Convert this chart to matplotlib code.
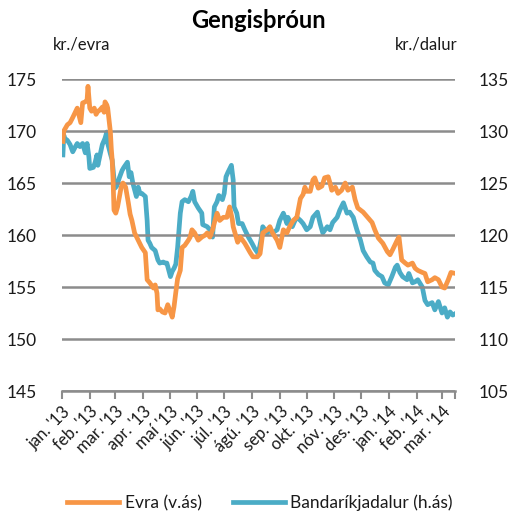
import matplotlib
matplotlib.use("Agg")
import matplotlib.pyplot as plt
import matplotlib.dates as mdates
import pandas as pd

plt.rcParams['font.family'] = ['Lato', 'DejaVu Sans']

title = "Gengisþróun"
left_unit = "kr./evra"
right_unit = "kr./dalur"
eur_label = "Evra (v.ás)"
usd_label = "Bandaríkjadalur (h.ás)"

month_labels = ["jan. '13", "feb. '13", "mar. '13", "apr. '13", "maí '13", "jún. '13",
                "júl. '13", "ágú. '13", "sep. '13", "okt. '13", "nóv. '13", "des. '13",
                "jan. '14", "feb. '14", "mar. '14"]

eur_dates = ["2013-01-02", "2013-01-03", "2013-01-07", "2013-01-10", "2013-01-13", "2013-01-18",
             "2013-01-20", "2013-01-22", "2013-01-24", "2013-01-27", "2013-01-29", "2013-01-30",
             "2013-01-31", "2013-02-01", "2013-02-03", "2013-02-06", "2013-02-08", "2013-02-10",
             "2013-02-12", "2013-02-15", "2013-02-17", "2013-02-18", "2013-02-20", "2013-02-21",
             "2013-02-24", "2013-02-25", "2013-02-26", "2013-02-27", "2013-02-28", "2013-03-02",
             "2013-03-04", "2013-03-08", "2013-03-10", "2013-03-13", "2013-03-16", "2013-03-18",
             "2013-03-20", "2013-03-23", "2013-03-27", "2013-03-31", "2013-04-04", "2013-04-06",
             "2013-04-09", "2013-04-13", "2013-04-15", "2013-04-17", "2013-04-18", "2013-04-20",
             "2013-04-23", "2013-04-26", "2013-04-29", "2013-05-02", "2013-05-04", "2013-05-06",
             "2013-05-08", "2013-05-10", "2013-05-13", "2013-05-15", "2013-05-18", "2013-05-22",
             "2013-05-24", "2013-05-26", "2013-05-29", "2013-06-02", "2013-06-06", "2013-06-10",
             "2013-06-12", "2013-06-15", "2013-06-18", "2013-06-21", "2013-06-23", "2013-06-26",
             "2013-06-30", "2013-07-04", "2013-07-07", "2013-07-10", "2013-07-11", "2013-07-13",
             "2013-07-16", "2013-07-19", "2013-07-24", "2013-07-30", "2013-08-02", "2013-08-07",
             "2013-08-10", "2013-08-13", "2013-08-18", "2013-08-21", "2013-08-24", "2013-08-29",
             "2013-09-01", "2013-09-05", "2013-09-09", "2013-09-12", "2013-09-16", "2013-09-20",
             "2013-09-24", "2013-09-27", "2013-09-29", "2013-10-01", "2013-10-05", "2013-10-08",
             "2013-10-10", "2013-10-14", "2013-10-18", "2013-10-21", "2013-10-25", "2013-10-27",
             "2013-10-29", "2013-11-02", "2013-11-05", "2013-11-09", "2013-11-13", "2013-11-16",
             "2013-11-21", "2013-11-24", "2013-11-27", "2013-12-03", "2013-12-08", "2013-12-13",
             "2013-12-16", "2013-12-20", "2013-12-22", "2013-12-25", "2013-12-30", "2014-01-02",
             "2014-01-05", "2014-01-10", "2014-01-12", "2014-01-15", "2014-01-19", "2014-01-22",
             "2014-01-27", "2014-01-30", "2014-02-02", "2014-02-07", "2014-02-10", "2014-02-13",
             "2014-02-18", "2014-02-21", "2014-02-25", "2014-03-01", "2014-03-04", "2014-03-08",
             "2014-03-11", "2014-03-16"]
eur_values = [169.0, 170.0, 170.6, 170.8, 171.3, 172.2,
              171.5, 170.8, 172.7, 172.8, 173.0, 174.3,
              173.2, 172.2, 171.9, 172.2, 171.6, 171.9,
              172.0, 172.3, 171.8, 172.8, 172.5, 172.2,
              169.9, 168.3, 167.2, 165.3, 162.4, 162.1,
              162.7, 164.6, 165.0, 164.6, 163.1, 162.0,
              161.4, 160.2, 159.5, 158.8, 158.3, 155.7,
              155.4, 154.9, 155.2, 154.4, 152.8, 152.9,
              152.6, 152.5, 153.3, 152.6, 152.1, 153.1,
              154.5, 155.8, 156.6, 158.8, 159.0, 159.5,
              159.8, 160.5, 160.2, 159.5, 159.8, 160.0,
              160.2, 159.8, 160.5, 161.5, 162.1, 161.4,
              161.7, 161.7, 162.7, 161.5, 160.8, 160.2,
              159.3, 159.8, 159.2, 158.3, 157.9, 157.9,
              158.2, 160.2, 160.5, 160.8, 160.2, 159.5,
              158.8, 160.5, 160.2, 160.8, 161.4, 161.7,
              163.5, 163.9, 164.6, 164.2, 164.2, 165.3,
              165.5, 164.5, 164.7, 165.5, 165.6, 165.0,
              164.3, 164.6, 164.0, 164.3, 165.0, 164.3,
              164.6, 163.4, 162.6, 162.2, 161.7, 161.2,
              160.5, 159.7, 159.5, 159.2, 158.4, 158.1,
              158.6, 159.5, 159.8, 157.6, 157.3, 157.1,
              157.3, 156.8, 156.6, 156.4, 156.3, 155.5,
              155.7, 155.9, 155.7, 155.0, 154.9, 155.7,
              156.4, 156.3]

usd_dates = ["2013-01-02", "2013-01-03", "2013-01-04", "2013-01-07", "2013-01-10", "2013-01-13",
             "2013-01-16", "2013-01-18", "2013-01-21", "2013-01-24", "2013-01-27", "2013-01-29",
             "2013-01-31", "2013-02-01", "2013-02-05", "2013-02-07", "2013-02-09", "2013-02-10",
             "2013-02-12", "2013-02-15", "2013-02-18", "2013-02-20", "2013-02-21", "2013-02-24",
             "2013-02-26", "2013-02-27", "2013-03-01", "2013-03-03", "2013-03-06", "2013-03-09",
             "2013-03-11", "2013-03-15", "2013-03-17", "2013-03-19", "2013-03-21", "2013-03-25",
             "2013-03-27", "2013-03-29", "2013-03-31", "2013-04-04", "2013-04-06", "2013-04-07",
             "2013-04-09", "2013-04-11", "2013-04-15", "2013-04-18", "2013-04-20", "2013-04-24",
             "2013-04-26", "2013-04-28", "2013-05-02", "2013-05-04", "2013-05-06", "2013-05-08",
             "2013-05-10", "2013-05-13", "2013-05-15", "2013-05-18", "2013-05-22", "2013-05-25",
             "2013-05-27", "2013-05-29", "2013-06-02", "2013-06-06", "2013-06-07", "2013-06-12",
             "2013-06-15", "2013-06-18", "2013-06-20", "2013-06-23", "2013-06-25", "2013-06-29",
             "2013-07-01", "2013-07-03", "2013-07-05", "2013-07-09", "2013-07-11", "2013-07-12",
             "2013-07-15", "2013-07-17", "2013-07-21", "2013-07-24", "2013-07-28", "2013-08-01",
             "2013-08-04", "2013-08-08", "2013-08-11", "2013-08-13", "2013-08-18", "2013-08-21",
             "2013-08-24", "2013-08-29", "2013-09-01", "2013-09-05", "2013-09-09", "2013-09-10",
             "2013-09-15", "2013-09-18", "2013-09-20", "2013-09-24", "2013-09-27", "2013-10-01",
             "2013-10-05", "2013-10-08", "2013-10-13", "2013-10-16", "2013-10-19", "2013-10-24",
             "2013-10-27", "2013-10-30", "2013-11-04", "2013-11-07", "2013-11-11", "2013-11-15",
             "2013-11-18", "2013-11-22", "2013-11-26", "2013-11-30", "2013-12-03", "2013-12-07",
             "2013-12-11", "2013-12-14", "2013-12-16", "2013-12-20", "2013-12-24", "2013-12-27",
             "2013-12-31", "2014-01-04", "2014-01-08", "2014-01-10", "2014-01-13", "2014-01-16",
             "2014-01-21", "2014-01-23", "2014-01-27", "2014-01-30", "2014-02-02", "2014-02-07",
             "2014-02-10", "2014-02-13", "2014-02-18", "2014-02-21", "2014-02-25", "2014-03-01",
             "2014-03-04", "2014-03-07", "2014-03-10", "2014-03-13", "2014-03-17"]
usd_values = [127.7, 129.6, 129.3, 129.1, 128.7, 128.0,
              128.5, 128.8, 128.5, 128.8, 127.9, 128.8,
              127.5, 126.4, 126.5, 127.0, 127.7, 126.7,
              127.5, 128.7, 129.3, 129.9, 128.8, 127.8,
              127.2, 126.3, 124.5, 124.7, 125.5, 126.2,
              126.5, 127.0, 125.6, 126.0, 125.0, 123.7,
              124.6, 124.0, 124.0, 123.7, 121.4, 119.5,
              119.2, 118.8, 118.5, 117.6, 117.3, 117.4,
              117.3, 117.3, 116.0, 116.5, 116.8, 117.2,
              118.8, 122.1, 123.2, 123.4, 123.2, 123.7,
              124.2, 123.2, 122.6, 122.1, 121.0, 120.8,
              120.5, 119.8, 122.7, 123.2, 123.8, 123.4,
              124.0, 125.6, 126.0, 126.7, 125.3, 122.7,
              122.1, 121.1, 121.1, 120.5, 119.8, 119.2,
              118.7, 118.2, 119.5, 120.8, 120.2, 120.5,
              120.2, 120.5, 121.4, 122.1, 121.1, 121.7,
              120.8, 121.4, 121.7, 121.4, 121.1, 120.5,
              120.8, 121.7, 122.2, 121.1, 120.2, 120.8,
              120.5, 121.2, 121.7, 122.4, 123.1, 122.1,
              122.2, 121.7, 120.5, 119.5, 118.5, 117.9,
              117.4, 117.3, 116.6, 116.2, 116.0, 115.4,
              115.2, 116.0, 116.9, 117.1, 116.4, 116.0,
              115.7, 116.3, 115.4, 115.5, 115.7, 115.0,
              113.7, 113.3, 113.5, 112.8, 113.6, 112.5,
              113.0, 112.1, 112.6, 112.3, 112.5]

eur_color = "#F79646"
usd_color = "#4BACC6"
grid_color = "#8C8C8C"
text_color = "#1a1a1a"

W, H = 517, 513
fig = plt.figure(figsize=(W / 100, H / 100), dpi=100)
ax = fig.add_axes([62 / W, 1 - 391 / H, (455 - 62) / W, (391 - 79) / H])
ax2 = ax.twinx()

ed = pd.to_datetime(eur_dates)
ud = pd.to_datetime(usd_dates)

ax.set_ylim(145, 175)
ax2.set_ylim(105, 135)
ax.set_yticks(range(145, 176, 5))
ax2.set_yticks(range(105, 136, 5))
ax.yaxis.grid(True, color=grid_color, linewidth=1.8)
ax.set_axisbelow(True)

ln_usd, = ax2.plot(ud, usd_values, color=usd_color, linewidth=3.4, solid_joinstyle='round',
                   label=usd_label, zorder=2)
ln_eur, = ax.plot(ed, eur_values, color=eur_color, linewidth=3.4, solid_joinstyle='round',
                  label=eur_label, zorder=3)
ax.set_zorder(ax2.get_zorder() + 1)
ax.patch.set_visible(False)

xmin = pd.Timestamp("2013-01-01")
xmax = pd.Timestamp("2014-03-15 12:00")
ax.set_xlim(xmin, xmax)
month_ticks = pd.date_range("2013-01-01", periods=len(month_labels), freq="MS")
ax.set_xticks(month_ticks)
ax.set_xticklabels(month_labels, rotation=45, ha="right", va="top", rotation_mode="anchor",
                   fontsize=12, color=text_color)
ax.set_xticks([mdates.date2num(xmax)], minor=True)
ax.tick_params(axis="x", which="both", length=6, width=1.5, color=grid_color, pad=3)

for a in (ax, ax2):
    for s in a.spines.values():
        s.set_visible(False)
ax.spines["bottom"].set_visible(True)
ax.spines["bottom"].set_color(grid_color)
ax.spines["bottom"].set_linewidth(1.8)

ax.tick_params(axis="y", length=0, pad=18, labelsize=12.5, labelcolor=text_color)
ax2.tick_params(axis="y", length=0, pad=17, labelsize=12.5, labelcolor=text_color)

fig.text(258 / W, 1 - 20 / H, title, ha="center", va="center", fontsize=17,
         fontweight="bold", color="black")
fig.text(53 / W, 1 - 45 / H, left_unit, ha="left", va="center", fontsize=12, color=text_color)
fig.text(457 / W, 1 - 45 / H, right_unit, ha="right", va="center", fontsize=12, color=text_color)

fig.legend(handles=[ln_eur, ln_usd], labels=[eur_label, usd_label], loc="center",
           bbox_to_anchor=(260 / W, 1 - 503 / H), ncol=2, frameon=False, fontsize=12.5,
           handlelength=3.0, columnspacing=1.8, handletextpad=0.3, labelcolor=text_color)

fig.savefig("out.png", dpi=100)
